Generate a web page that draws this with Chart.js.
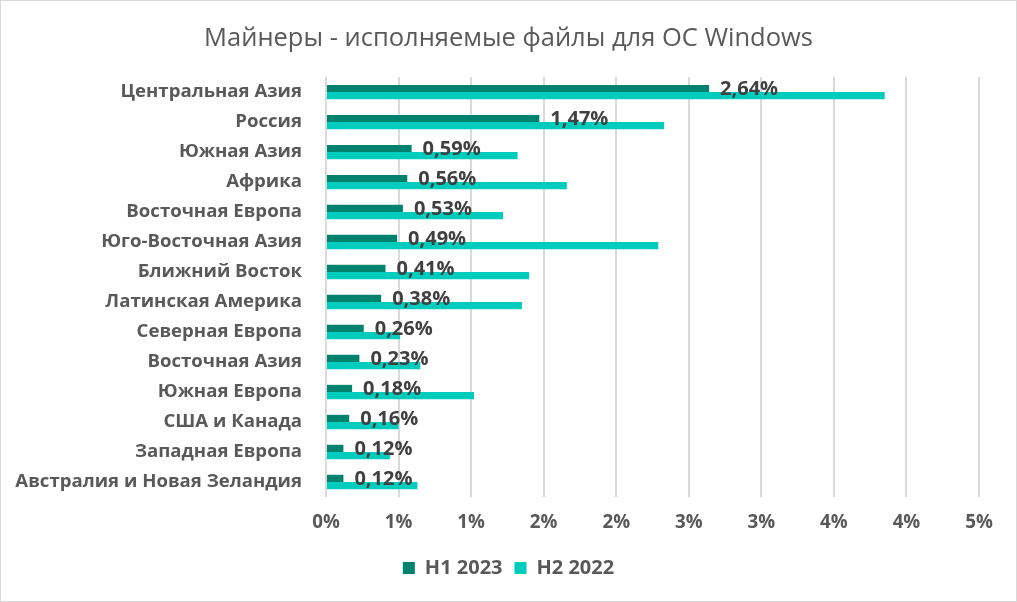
<!DOCTYPE html>
<html>
<head>
<meta charset="utf-8">
<script src="https://cdn.jsdelivr.net/npm/chart.js@4"></script>
<style>
  body { margin: 0; background: #fff; }
  #wrap { width: 1017px; height: 602px; box-sizing: border-box; border: 1px solid #d9d9d9; }
  canvas { display: block; }
</style>
</head>
<body>
<div id="wrap"><canvas id="chart" width="1015" height="600"></canvas></div>
<script>
const regions = ['Центральная Азия', 'Россия', 'Южная Азия', 'Африка', 'Восточная Европа', 'Юго-Восточная Азия',
  'Ближний Восток', 'Латинская Америка', 'Северная Европа', 'Восточная Азия', 'Южная Европа', 'США и Канада',
  'Западная Европа', 'Австралия и Новая Зеландия'];
const h1_2023 = [2.64, 1.47, 0.59, 0.56, 0.53, 0.49, 0.41, 0.38, 0.26, 0.23, 0.18, 0.16, 0.12, 0.12];
const h2_2022 = [3.85, 2.33, 1.32, 1.66, 1.22, 2.29, 1.40, 1.35, 0.51, 0.65, 1.02, 0.50, 0.44, 0.63];

const font = "'Open Sans', sans-serif";

// labels at the end of the H1 2023 bars
const barLabels = {
  id: 'barLabels',
  afterDatasetsDraw: chart => {
    const ctx = chart.ctx;
    const meta = chart.getDatasetMeta(0);
    ctx.save();
    ctx.font = `bold 20px ${font}`;
    ctx.fillStyle = '#404040';
    ctx.textAlign = 'left';
    ctx.textBaseline = 'middle';
    meta.data.forEach((bar, i) => {
      const { x, y } = bar.getProps(['x', 'y'], true);
      ctx.fillText(h1_2023[i].toFixed(2).replace('.', ',') + '%', x + 11, y + 1);
    });
    ctx.restore();
  }
};

// right padding pulls title and legend off centre, put them back in the middle of the canvas
const recenter = {
  id: 'recenter',
  afterLayout: chart => {
    const shift = (chart.width - (chart.legend.right + chart.legend.left)) / 2;
    [chart.legend, chart.titleBlock].forEach(box => {
      box.left += shift;
      box.right += shift;
    });
  }
};

new Chart(document.getElementById('chart'), {
  type: 'bar',
  data: {
    labels: regions,
    datasets: [
      { label: 'H1 2023', data: h1_2023, backgroundColor: '#00826f', borderWidth: 0 },
      { label: 'H2 2022', data: h2_2022, backgroundColor: '#00ccbe', borderWidth: 0 },
    ],
  },
  plugins: [barLabels, recenter],
  options: {
    indexAxis: 'y',
    responsive: false,
    animation: false,
    datasets: { bar: { categoryPercentage: 0.48, barPercentage: 1 } },
    layout: { padding: { top: 0, right: 37, bottom: 13, left: 0 } },
    plugins: {
      title: {
        display: true,
        text: 'Майнеры - исполняемые файлы для ОС Windows',
        color: '#595959',
        font: { family: font, size: 25.5, weight: 'normal' },
        padding: { top: 22, bottom: 23.5 },
      },
      legend: {
        position: 'bottom',
        labels: {
          color: '#595959',
          font: { family: font, size: 20, weight: 'bold' },
          boxWidth: 12,
          boxHeight: 12,
          padding: 12,
        },
      },
      tooltip: { enabled: false },
    },
    scales: {
      x: {
        min: 0,
        max: 4.5,
        afterFit: scale => { scale.height = 49; },
        ticks: {
          stepSize: 0.5,
          color: '#595959',
          font: { family: font, size: 18.75, weight: 'bold' },
          padding: 14,
          callback: value => `${Math.round(value)}%`,
        },
        grid: { color: '#d9d9d9', lineWidth: 2, drawTicks: false },
        border: { display: false },
      },
      y: {
        afterFit: scale => { scale.width = 325; },
        ticks: {
          color: '#595959',
          font: { family: font, size: 18.6, weight: 'bold' },
          padding: 16,
          autoSkip: false,
        },
        grid: { display: false },
        border: { display: false },
      },
    },
  },
});
</script>
</body>
</html>
